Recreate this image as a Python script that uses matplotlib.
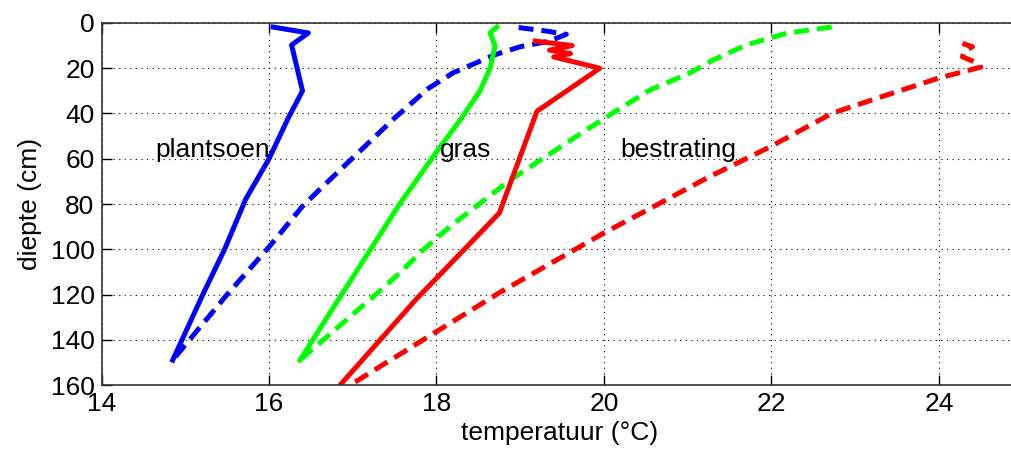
import matplotlib.pyplot as plt

plt.rcParams['font.family'] = ['Liberation Sans', 'DejaVu Sans']

# plantsoen (blauw)
plant_t = [16.05, 16.47, 16.27, 16.4, 16.23, 16.0, 15.72, 15.47, 15.21, 14.85]
plant_d = [1.8, 4.4, 9.7, 30, 42, 60, 78, 100, 120, 149]
plant2_t = [18.98, 19.3, 19.55, 19.35, 19.0, 18.7, 18.2, 17.9, 17.5, 16.65, 16.4, 16.0, 15.5, 14.85]
plant2_d = [2, 3.5, 5, 8, 10.5, 14, 22, 29, 42, 72, 81, 99, 120, 149]

# gras (groen)
gras_t = [18.72, 18.64, 18.7, 18.64, 18.52, 18.28, 18.0, 17.56, 16.85, 16.37]
gras_d = [1.8, 4.4, 10, 20, 30, 43, 57, 80, 121, 149]
gras2_t = [22.72, 22.18, 21.98, 21.7, 21.3, 21.03, 20.55, 20.16, 19.8, 18.88,
           18.16, 17.85, 17.56, 17.29, 16.37]
gras2_d = [1.8, 4.5, 6.7, 9.7, 16.4, 22, 29.6, 38.5, 47, 69.4, 90, 100, 110.5, 119.5, 149]

# bestrating (rood)
best_t = [19.18, 19.62, 19.35, 19.6, 19.4, 19.95, 19.2, 18.75, 18.36, 17.76, 16.85]
best_d = [8, 10, 12, 13.5, 15, 20, 39, 84, 99, 122, 160]
best2_t = [24.28, 24.4, 24.3, 24.28, 24.45, 24.5, 24.0, 23.38, 22.73, 21.98, 21.23,
           20.55, 19.99, 18.76, 16.97]
best2_d = [9, 10.5, 12.5, 15, 17.5, 19.5, 24.3, 31.8, 39.8, 54.8, 68.5, 82, 93, 119, 160]

labels = ["plantsoen", "gras", "bestrating"]
label_t = [14.64, 18.04, 20.19]
label_d = [56, 56, 56]

fig = plt.figure(figsize=(10.11, 4.59), dpi=100)
ax = fig.add_axes([0.1004, 0.1612, 0.994, 0.7887])

lw = 3.6
ds = (3, 1.6)
ax.plot(plant_t, plant_d, color=(0, 0, 1), lw=lw)
ax.plot(plant2_t, plant2_d, color=(0, 0, 1), lw=lw, ls="--", dashes=ds)
ax.plot(gras_t, gras_d, color=(0, 1, 0), lw=lw)
ax.plot(gras2_t, gras2_d, color=(0, 1, 0), lw=lw, ls="--", dashes=ds)
ax.plot(best_t, best_d, color=(1, 0, 0), lw=lw)
ax.plot(best2_t, best2_d, color=(1, 0, 0), lw=lw, ls="--", dashes=ds)

for tekst, t, d in zip(labels, label_t, label_d):
    ax.text(t, d, tekst, fontsize=19, va="center", ha="left")

# aksen går forbi høyre kant (bildet er beskåret)
ax.set_xlim(14, 26)
ax.set_ylim(160, 0)
ax.set_xticks(range(14, 25, 2))
ax.set_yticks(range(0, 161, 20))
ax.tick_params(direction="in", length=7, width=1, labelsize=19,
               top=True, right=True, pad=5)
ax.grid(True, color="black", linestyle=(0, (1, 4)), linewidth=0.8)
for s in ax.spines.values():
    s.set_color("#333333")
    s.set_linewidth(1.2)

ax.set_xlabel("temperatuur (°C)", fontsize=19, labelpad=2)
ax.xaxis.set_label_coords(0.456, -0.1)
ax.set_ylabel("diepte (cm)", fontsize=19, labelpad=6)

fig.savefig("out.png", dpi=100)
